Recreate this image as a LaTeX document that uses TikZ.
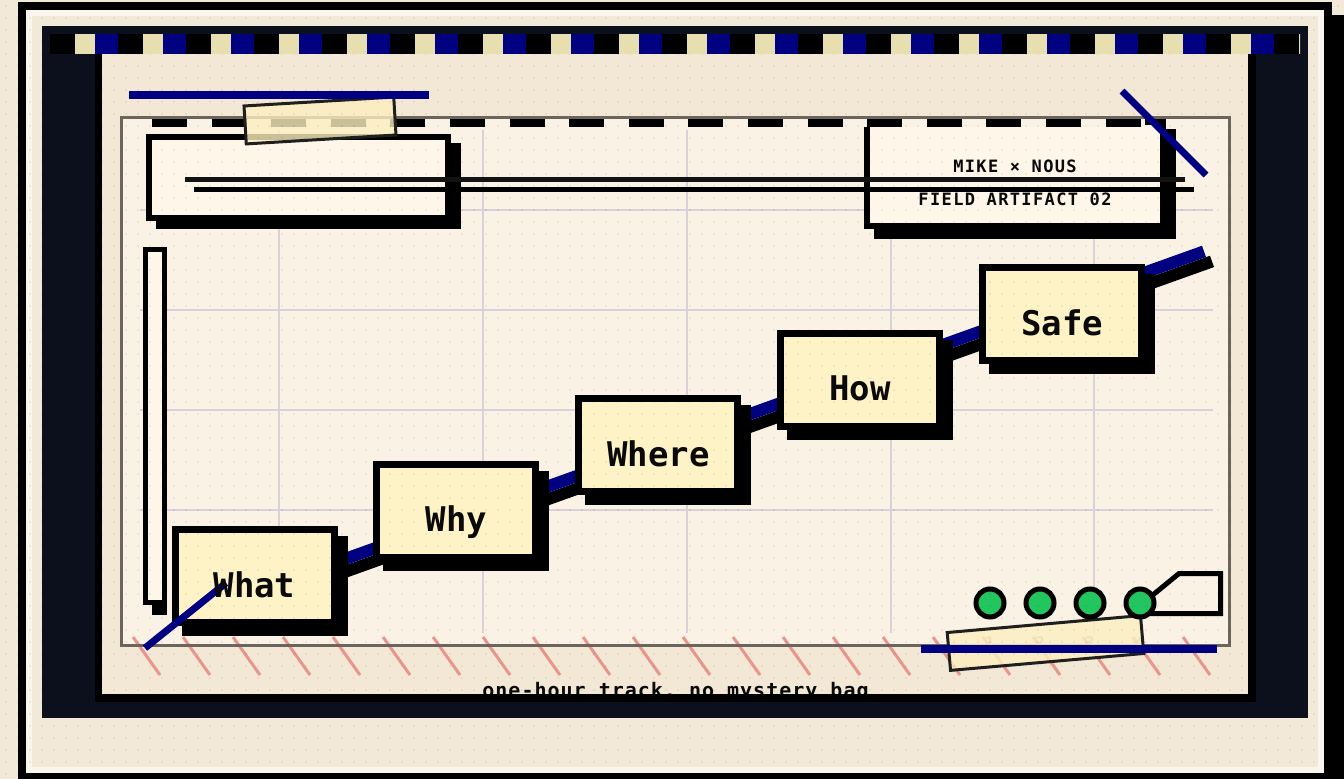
\documentclass[tikz,border=0pt]{standalone}
\usepackage{fontspec}
\newfontfamily\monofont{DejaVu Sans Mono}
\newfontfamily\trackfont{DejaVu Sans Mono}[LetterSpace=8]
\newfontfamily\footfont{DejaVu Sans Mono}[LetterSpace=5]
\definecolor{paper}{HTML}{F3E9D8}
\definecolor{cardedge}{HTML}{FAF6EE}
\definecolor{framedark}{HTML}{0B101C}
\definecolor{panel}{HTML}{F3E8D5}
\definecolor{board}{HTML}{FAF2E4}
\definecolor{boardline}{HTML}{6B655E}
\definecolor{gridline}{HTML}{D9D0D9}
\definecolor{hatch}{HTML}{E8968B}
\definecolor{navy}{HTML}{000080}
\definecolor{boxcream}{HTML}{FDF6E9}
\definecolor{boxyellow}{HTML}{FEF3C7}
\definecolor{tapefill}{HTML}{FCEFC0}
\definecolor{tapeline}{HTML}{1F1F1F}
\definecolor{lamp}{HTML}{22C55E}
\definecolor{numgray}{HTML}{B3AA96}
\definecolor{stripcream}{HTML}{E8DFB1}
\definecolor{ink}{HTML}{0A0A0A}
\tikzset{
  stepbox/.style={draw=black, line width=7pt, fill=boxyellow,
    minimum width=159pt, minimum height=93pt, inner sep=0pt,
    preaction={fill=black, draw=black, line width=7pt,
      transform canvas={shift={(10pt,-10pt)}}}},
  steplabel/.style={anchor=base, text=ink, inner sep=0pt,
    font=\monofont\bfseries\fontsize{34}{40}\selectfont},
  notebox/.style={draw=black, line width=6pt, fill=boxcream, inner sep=0pt},
  tape/.style={draw=tapeline, line width=3pt, fill=tapefill, fill opacity=0.8,
    draw opacity=1, inner sep=0pt},
  lampdot/.style={circle, draw=black, line width=5pt, fill=lamp,
    minimum size=28pt, inner sep=0pt},
  bluestroke/.style={draw=navy, line width=8pt},
}
\begin{document}
\begin{tikzpicture}[x=1pt,y=-1pt]
\useasboundingbox (0,0) rectangle (1344,779);
% page
\fill[paper] (0,0) rectangle (1344,779);
% card with offset shadow
\fill[black] (30,15) rectangle (1344,779);
\fill[black] (18,2) rectangle (1332,779);
\fill[cardedge] (26,10) rectangle (1324,773);
\fill[paper] (32,16) rectangle (1318,767);
% dark frame
\fill[framedark] (42,26) rectangle (1308,718);
% inner panel
\fill[black] (95,47) rectangle (1256,702);
\fill[panel] (102,47) rectangle (1248,694);
% board
\fill[board] (121,117) rectangle (1229,645);
\foreach \gx in {279,483,687,891,1094}
  \draw[gridline, line width=2pt] (\gx,130) -- (\gx,633);
\foreach \gy in {210,310,410,510}
  \draw[gridline, line width=2pt] (140,\gy) -- (1213,\gy);
\foreach \k in {0,...,21}
  \draw[hatch, line width=3pt] (133+50*\k,637) -- (160+50*\k,675);
\draw[boardline, line width=3pt] (121,117) rectangle (1229,645);

% note boxes at the top
\fill[black] (156,143) rectangle (461,229);
\node[notebox, minimum width=299pt, minimum height=81pt] (leftnote) at (298.5,177.5) {};
\node[notebox, minimum width=296pt, minimum height=104pt,
  preaction={fill=black, draw=black, line width=6pt,
    transform canvas={shift={(10pt,-10pt)}}}] (rightnote) at (1015,174) {};
\node[anchor=base, text=ink, inner sep=0pt,
  font=\trackfont\bfseries\fontsize{17}{20}\selectfont] (rightnotetitle)
  at (rightnote.center |- 0,172) {MIKE × NOUS};
\node[anchor=base, text=ink, inner sep=0pt,
  font=\trackfont\bfseries\fontsize{17}{20}\selectfont] (rightnotesub)
  at (rightnote.center |- 0,205) {FIELD ARTIFACT 02};

% dashed rule across the top of the board
\fill[board] (152,119) rectangle (1145,127);
\draw[black, line width=8pt, dash pattern=on 35pt off 24.6pt] (152,123) -- (1145,123);

% double rule
\draw[black!93, line width=5pt] (185,179.5) -- (1185,179.5);
\draw[black, line width=5pt] (194,189.5) -- (1194,189.5);

% tape strip and blue marks at the top
\node[tape, rotate=3.4, minimum width=150pt, minimum height=38pt] (toptape) at (320,120.5) {};
\draw[bluestroke] (129,95) -- (429,95);
\draw[navy, line width=7pt] (1122,91) -- (1206,175);

% vertical gauge bar
\fill[black] (152,600) rectangle (167,615);
\node[draw=black, line width=5pt, fill=boxcream, inner sep=0pt,
  minimum width=19pt, minimum height=353pt] (gauge) at (155,426) {};

% track behind the steps
\coordinate (trackstart) at (200,610.9);
\coordinate (trackend) at (1204,251.4);
\draw[black, line width=12pt] ([shift={(8,10)}]trackstart) -- ([shift={(8,10)}]trackend);
\draw[navy, line width=12pt] (trackstart) -- (trackend);

% steps
\node[stepbox] (what)  at (254.5,576) {};
\node[stepbox] (why)   at (456.4,510.6) {};
\node[stepbox] (where) at (658.3,445.2) {};
\node[stepbox] (how)   at (860.2,379.8) {};
\node[stepbox] (safe)  at (1062.1,314.4) {};

\draw[navy, line width=7pt] (145,648) -- (226,583);

% counters, lamps and tag
\foreach \n/\cx in {1/990,2/1040,3/1090,4/1140}
  \node[anchor=base, text=numgray, inner sep=0pt,
    font=\monofont\bfseries\fontsize{16}{18}\selectfont] (num\n) at (\cx,648) {\n};
\node[tape, rotate=5, minimum width=194pt, minimum height=38pt] (bottomtape) at (1045.5,643) {};
\draw[bluestroke] (921,649) -- (1217,649);
\draw[black, line width=5pt, line join=miter] (1143,603) -- (1179,573.5) -- (1220.5,573.5)
  -- (1220.5,613.5) -- (1140,613.5);
\foreach \n/\cx in {1/990,2/1040,3/1090,4/1140}
  \node[lampdot] (lamp\n) at (\cx,603) {};

% dotted texture, one row per path
\foreach \j in {0,...,64} {
  \fill[black, opacity=0.07] \foreach \i in {0,...,111} { (6+12*\i,6+12*\j) circle (1.1) };
}

% step labels
\node[steplabel] (whatlabel)  at (what.center |- 0,597) {What};
\node[steplabel] (whylabel)   at (why.center |- 0,531.6) {Why};
\node[steplabel] (wherelabel) at (where.center |- 0,466.2) {Where};
\node[steplabel] (howlabel)   at (how.center |- 0,400.8) {How};
\node[steplabel] (safelabel)  at (safe.center |- 0,335.4) {Safe};

% footer line, cut by the panel edge
\node[anchor=base, text=ink, inner sep=0pt,
  font=\footfont\bfseries\fontsize{20}{24}\selectfont] (footer)
  at (675.5,697) {one-hour track, no mystery bag};
\fill[black] (95,694) rectangle (1256,702);

% checkered header strip
\begin{scope}
  \clip (50,34) rectangle (1300,54);
  \foreach \k in {0,...,18} {
    \fill[black] (50+68*\k,34) rectangle (75+68*\k,54);
    \fill[stripcream] (75+68*\k,34) rectangle (95+68*\k,54);
    \fill[navy] (95+68*\k,34) rectangle (119+68*\k,54);
  }
\end{scope}
\end{tikzpicture}
\end{document}
